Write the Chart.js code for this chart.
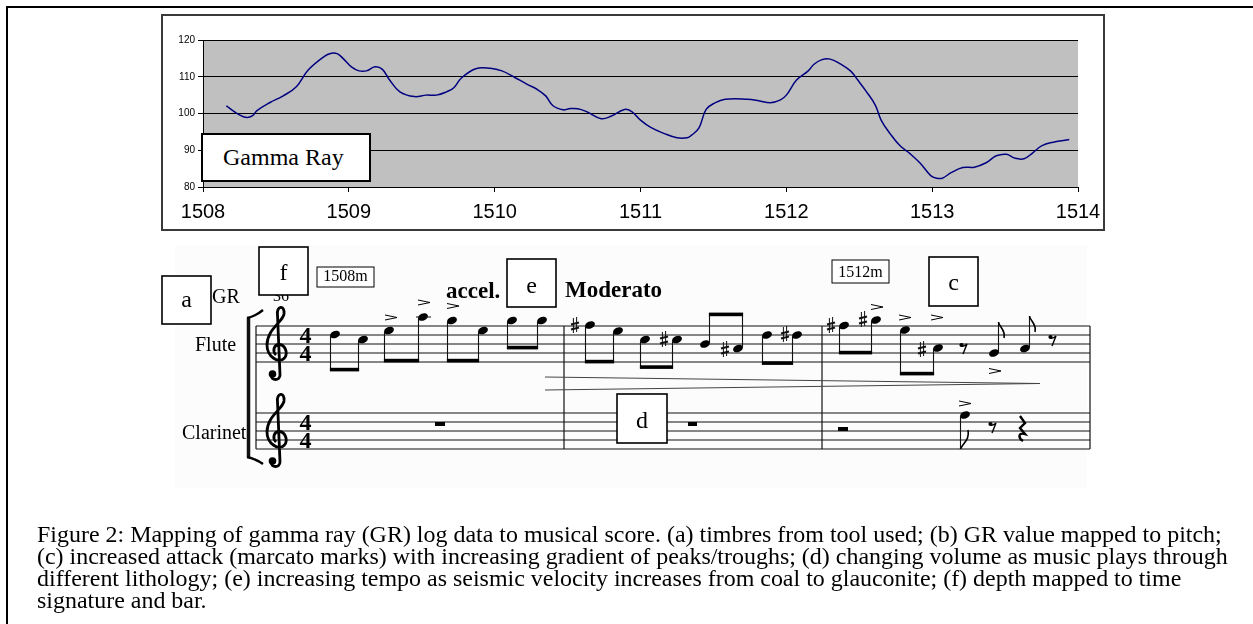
<!DOCTYPE html>
<html>
<head>
<meta charset="utf-8">
<script src="https://cdn.jsdelivr.net/npm/chart.js@4.4.1/dist/chart.umd.min.js"></script>
<style>
  html,body{margin:0;padding:0;background:#fff;width:1253px;height:624px;overflow:hidden;position:relative;}
  .frame{position:absolute;left:6px;top:6px;width:1260px;height:640px;border-top:2px solid #000;border-left:2px solid #000;}
  .chartbox{position:absolute;left:161px;top:14px;width:944px;height:217px;border:2px solid #3a3a3a;box-sizing:border-box;background:#fff;}
  .chartbox canvas{display:block;}
  .legendbox{position:absolute;left:201px;top:133px;width:170px;height:49px;box-sizing:border-box;border:2px solid #000;background:#fff;
    font-family:"Liberation Serif","Times New Roman",serif;font-size:24px;line-height:45px;padding-left:20px;color:#000;white-space:nowrap;}
  svg.score{position:absolute;left:0;top:0;}
  .caption{position:absolute;left:37px;top:524px;font-family:"Liberation Serif","Times New Roman",serif;font-size:20px;line-height:21.9px;color:#000;}
  .caption div{white-space:nowrap;}
</style>
</head>
<body>
<div class="frame"></div>
<div class="chartbox"><canvas id="c" width="940" height="213"></canvas></div>
<div class="legendbox">Gamma Ray</div>
<svg class="score" id="score" width="1253" height="624" xmlns="http://www.w3.org/2000/svg"></svg>
<div class="caption" id="cap">
  <div>Figure 2: Mapping of gamma ray (GR) log data to musical score. (a) timbres from tool used; (b) GR value mapped to pitch;</div>
  <div id="capRef">(c) increased attack (marcato marks) with increasing gradient of peaks/troughs; (d) changing volume as music plays through</div>
  <div>different lithology; (e) increasing tempo as seismic velocity increases from coal to glauconite; (f) depth mapped to time</div>
  <div>signature and bar.</div>
</div>
<script>
// ---- data ----
const depth = [1508.16,1508.25,1508.30,1508.34,1508.37,1508.46,1508.55,1508.64,1508.72,1508.83,
  1508.88,1508.92,1508.96,1509.02,1509.07,1509.12,1509.18,1509.23,1509.28,1509.35,
  1509.45,1509.53,1509.60,1509.67,1509.72,1509.77,1509.87,1509.97,1510.05,1510.13,
  1510.22,1510.29,1510.35,1510.40,1510.47,1510.51,1510.57,1510.63,1510.73,1510.80,
  1510.89,1510.94,1511.00,1511.07,1511.16,1511.25,1511.32,1511.35,1511.40,1511.45,
  1511.51,1511.58,1511.73,1511.81,1511.89,1511.96,1512.00,1512.07,1512.15,1512.19,
  1512.24,1512.30,1512.37,1512.44,1512.49,1512.55,1512.61,1512.65,1512.71,1512.78,
  1512.85,1512.92,1512.99,1513.03,1513.07,1513.13,1513.21,1513.29,1513.37,1513.44,
  1513.51,1513.57,1513.63,1513.69,1513.75,1513.83,1513.94];
const gr = [102.1,99.6,98.9,99.4,100.8,103.0,104.8,107.3,111.8,115.5,
  116.4,116.3,115.0,112.6,111.6,111.6,112.7,112.0,109.1,105.9,
  104.6,105.0,105.0,105.9,107.0,109.6,112.2,112.3,111.6,110.0,
  108.0,106.6,104.8,102.1,101.0,101.3,101.3,100.5,98.6,99.3,
  101.1,100.5,98.2,96.2,94.6,93.4,93.4,94.1,96.0,101.1,
  102.9,103.9,103.9,103.5,102.9,103.7,105.0,109.1,111.6,113.4,
  114.6,114.8,113.5,111.6,109.1,105.9,102.3,98.2,94.6,91.2,
  89.0,86.4,83.1,82.4,82.4,83.9,85.3,85.4,86.6,88.5,
  88.9,87.8,87.7,89.3,91.2,92.2,92.9];
const depthTicks = [1508,1509,1510,1511,1512,1513,1514];
const grTicks = [80,90,100,110,120];
const seriesName = 'Gamma Ray';

// ---- chart ----
const plotBg = {
  id:'plotBg',
  beforeDraw(c){
    const a=c.chartArea, ctx=c.ctx;
    ctx.save(); ctx.fillStyle='#c0c0c0';
    ctx.fillRect(a.left,a.top,a.right-a.left,a.bottom-a.top); ctx.restore();
  }
};
new Chart(document.getElementById('c'), {
  type:'line',
  data:{datasets:[{label:seriesName, data:depth.map((d,i)=>({x:d,y:gr[i]})),
    borderColor:'#000080', borderWidth:1.5, pointRadius:0, tension:0.4, fill:false}]},
  options:{
    responsive:false, animation:false,
    layout:{padding:{top:24,right:25,left:0,bottom:0}},
    plugins:{legend:{display:false},tooltip:{enabled:false}},
    scales:{
      x:{type:'linear', min:depthTicks[0], max:depthTicks[depthTicks.length-1],
        afterBuildTicks(s){ s.ticks = depthTicks.map(v=>({value:v})); },
        ticks:{color:'#000', font:{family:'"Liberation Sans", Arial, sans-serif', size:20}, padding:8,
          maxRotation:0, autoSkip:false, callback:v=>String(v)},
        grid:{drawOnChartArea:false, drawTicks:true, tickLength:5, color:'#000'},
        border:{display:true, color:'#000', width:1},
        afterFit(s){ s.height = 42; s.paddingRight = 0; }},
      y:{min:grTicks[0], max:grTicks[grTicks.length-1],
        afterBuildTicks(s){ s.ticks = grTicks.map(v=>({value:v})); },
        ticks:{color:'#000', font:{family:'"Liberation Sans", Arial, sans-serif', size:10}, padding:3, callback:v=>String(v)},
        grid:{color:'#000', lineWidth:1, tickLength:5, drawTicks:true},
        border:{display:true, color:'#000', width:1},
        afterFit(s){ s.width = 40; }}
    }
  },
  plugins:[plotBg]
});

// ---- caption fit ----
(function(){
  const ref = document.getElementById('capRef');
  const w = ref.getBoundingClientRect().width;
  const target = 1191;
  const fs = 20*target/w;
  document.getElementById('cap').style.fontSize = fs.toFixed(2)+'px';
})();

// ---- score illustration (SVG) ----
const P = [];
const ln=(x1,y1,x2,y2,w=1,c='#111')=>P.push(`<line x1="${x1}" y1="${y1}" x2="${x2}" y2="${y2}" stroke="${c}" stroke-width="${w}"/>`);
const tx=(x,y,s,size,opt={})=>P.push(`<text x="${x}" y="${y}" font-family="${opt.fam||"'Liberation Serif','Times New Roman',serif"}" font-size="${size}" font-weight="${opt.bold?'bold':'normal'}" text-anchor="${opt.anchor||'start'}" fill="#000">${s}</text>`);
const box=(x,y,w,h,sw=1.6)=>P.push(`<rect x="${x}" y="${y}" width="${w}" height="${h}" fill="#fff" stroke="#000" stroke-width="${sw}"/>`);
const head=(x,y)=>P.push(`<ellipse cx="${x}" cy="${y}" rx="5.1" ry="3.6" transform="rotate(-22 ${x} ${y})" fill="#000"/>`);
const acc=(x,y)=>P.push(`<polyline points="${x-6},${y-2.5} ${x+6},${y} ${x-6},${y+2.5}" fill="none" stroke="#000" stroke-width="1"/>`);
const sharp=(x,y)=>{ ln(x-1.6,y-8,x-1.6,y+7,1); ln(x+1.6,y-9,x+1.6,y+6,1);
  ln(x-4,y-1.5,x+4,y-3.5,2); ln(x-4,y+3.5,x+4,y+1.5,2); };
const pairDown=(x1,y1,x2,y2,by)=>{ head(x1,y1); head(x2,y2);
  ln(x1-4.5,y1+1,x1-4.5,by,1.1); ln(x2-4.5,y2+1,x2-4.5,by,1.1);
  P.push(`<rect x="${x1-5.1}" y="${by-3.2}" width="${x2-x1+1.2}" height="3.6" fill="#000"/>`); };
const pairUp=(x1,y1,x2,y2,by)=>{ head(x1,y1); head(x2,y2);
  ln(x1+4.5,y1-1,x1+4.5,by,1.1); ln(x2+4.5,y2-1,x2+4.5,by,1.1);
  P.push(`<rect x="${x1+3.9}" y="${by-0.4}" width="${x2-x1+1.2}" height="3.6" fill="#000"/>`); };
const upFlag=(x,y,top)=>{ head(x,y); ln(x+4.5,y-1,x+4.5,top,1.1);
  P.push(`<path d="M ${x+4.5},${top} C ${x+5},${top+5} ${x+12},${top+8} ${x+10},${top+16}" fill="none" stroke="#000" stroke-width="1.6"/>`); };
const eighthRest=(x,y)=>{ P.push(`<circle cx="${x-2.5}" cy="${y-4}" r="2.1" fill="#000"/>`);
  P.push(`<path d="M ${x-3},${y-3} Q ${x},${y-2} ${x+3},${y-5} L ${x-1},${y+5}" fill="none" stroke="#000" stroke-width="1.4"/>`); };
const quarterRest=(x,y)=>P.push(`<path d="M ${x-2},${y-14} L ${x+3},${y-7} L ${x-2},${y-2} L ${x+3},${y+4} C ${x-4},${y+2} ${x-4},${y+8} ${x+1},${y+11}" fill="none" stroke="#000" stroke-width="2.4"/>`);
const clef=(x,y)=>{ P.push(`<g transform="translate(${x},${y})"><path d="M 3,22 C 3,28 -6,28 -6,22 M 3,22 L 0.5,-38 C -1,-47 8,-49 7,-39 C 6,-31 -10,-24 -10,-8 C -10,4 2,11 7.5,5 C 11.5,0 8,-8.5 2,-8.5 C -3,-8.5 -5,-2 -1,2" fill="none" stroke="#000" stroke-width="2.8"/><circle cx="-4.5" cy="21" r="3.8" fill="#000"/></g>`); };

// faint background of the score image
P.push(`<rect x="175" y="245" width="912" height="243" fill="#fcfcfc"/>`);
const fluteLines=[326,335,344,353,362], clarLines=[413,422,431,440,449];
const staffL=256, staffR=1090, bars=[256,564,822,1090];
fluteLines.forEach(y=>ln(staffL,y,staffR,y,1));
clarLines.forEach(y=>ln(staffL,y,staffR,y,1));
bars.forEach(x=>ln(x,326,x,449,1.2));
// bracket
ln(248.5,318,248.5,457,3.5);
P.push(`<path d="M 247,318 Q 256,316 263,310 M 247,457 Q 256,459 263,464" fill="none" stroke="#000" stroke-width="2.4"/>`);
clef(277,353); clef(277,440);
tx(305.5,343,'4',24,{bold:true,anchor:'middle'}); tx(305.5,361,'4',24,{bold:true,anchor:'middle'});
tx(305.5,430,'4',24,{bold:true,anchor:'middle'}); tx(305.5,448,'4',24,{bold:true,anchor:'middle'});
tx(195,351,'Flute',20); tx(182,439,'Clarinet',20);
tx(212,303,'GR',20);
tx(281,301,'36',16,{anchor:'middle'});
// labels and boxes
box(162,276,49,48); tx(186.5,307,'a',24,{anchor:'middle'});
box(259,247,49,48); tx(283.5,280,'f',24,{anchor:'middle'});
box(507,259,49,48); tx(531.5,293,'e',24,{anchor:'middle'});
box(617,394,50,49); tx(642,428,'d',24,{anchor:'middle'});
box(929,257,49,49); tx(953.5,290,'c',24,{anchor:'middle'});
box(317,267,57,20,1); tx(345.5,281,'1508m',16,{anchor:'middle'});
box(832,260,57,23,1); tx(860.5,277,'1512m',16,{anchor:'middle'});
tx(446,298,'accel.',23,{bold:true}); tx(565,297,'Moderato',23,{bold:true});
// hairpin (narrowing)
ln(545,377,1040,383.5,1,'#444'); ln(545,390,1040,383.5,1,'#444');
// flute measure 1
pairDown(335,334.5,363,339.5,371);
pairDown(389,330.5,423,317,362); ln(416,317,431,317,1);
pairDown(452,320.5,483,330.5,362);
pairDown(512,320.5,542,320.5,349);
acc(391,317.5); acc(424,302.5); acc(453,306);
// flute measure 2
sharp(575,326); pairDown(590,325,618,331,363);
sharp(664,340); pairDown(645,339.5,677,339.5,368.5);
sharp(725,350); pairUp(705,344,738,348.5,313);
sharp(785,335); pairDown(767,335,797,335,364.5);
// flute measure 3
sharp(831,326); sharp(863,320); pairDown(844,325.5,876,320,354); acc(877,307);
sharp(922,350); pairDown(905,330,938,348,375); acc(905,317.5); acc(937,317.5);
eighthRest(964,349);
upFlag(994,353,322); acc(995,371);
upFlag(1025,348.5,316);
eighthRest(1053,341);
// clarinet
P.push(`<rect x="435" y="422" width="10" height="4" fill="#000"/>`);
P.push(`<rect x="688" y="422" width="9" height="4" fill="#000"/>`);
P.push(`<rect x="838" y="427" width="10" height="4" fill="#000"/>`);
head(965,415); ln(960.5,416,960.5,449,1.1);
P.push(`<path d="M 960.5,449 C 963,443 970,440 968,430" fill="none" stroke="#000" stroke-width="1.6"/>`);
acc(965,403.5);
eighthRest(993,428); quarterRest(1022,430);
document.getElementById('score').innerHTML = P.join('');
</script>
</body>
</html>
